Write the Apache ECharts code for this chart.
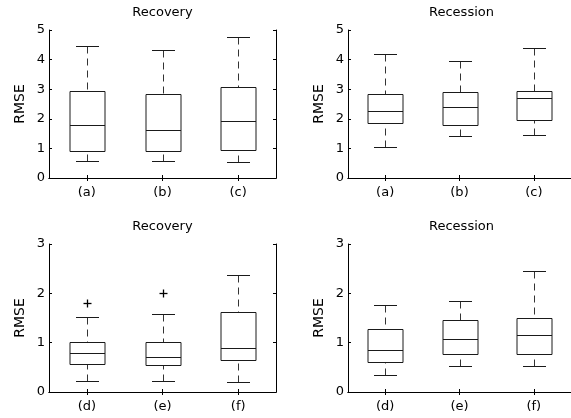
<!DOCTYPE html>
<html>
<head>
<meta charset="utf-8">
<script src="https://cdn.jsdelivr.net/npm/echarts@6/dist/echarts.min.js"></script>
<style>html,body{margin:0;padding:0;background:#fff}#c{width:571px;height:418px}</style>
</head>
<body>
<div id="c"></div>
<script>
// ---- data ----
const catsTop = ['(a)', '(b)', '(c)'];
const catsBottom = ['(d)', '(e)', '(f)'];
const titles = ['Recovery', 'Recession', 'Recovery', 'Recession'];
const yMaxTop = 5;
const yMaxBottom = 3;
// [lower whisker, Q1, median, Q3, upper whisker]
const recoveryTop = [
  [0.58, 0.92, 1.78, 2.94, 4.47],
  [0.58, 0.90, 1.63, 2.83, 4.31],
  [0.54, 0.94, 1.92, 3.08, 4.76]
];
const recessionTop = [
  [1.04, 1.87, 2.27, 2.84, 4.19],
  [1.42, 1.80, 2.40, 2.89, 3.96],
  [1.45, 1.97, 2.70, 2.94, 4.38]
];
const recoveryBottom = [
  [0.23, 0.56, 0.79, 1.02, 1.53],
  [0.22, 0.54, 0.71, 1.01, 1.59],
  [0.20, 0.64, 0.90, 1.62, 2.38]
];
const recessionBottom = [
  [0.34, 0.60, 0.86, 1.28, 1.76],
  [0.53, 0.78, 1.08, 1.46, 1.84],
  [0.52, 0.78, 1.15, 1.50, 2.45]
];
// outliers: [category index, value]
const recoveryBottomOutliers = [[0, 1.80], [1, 2.01]];

// ---- layout ----
const FONT = 'DejaVu Sans';
const grids = [
  {left: 49, top: 30, width: 227, height: 148},
  {left: 348, top: 30, width: 229, height: 148},
  {left: 49, top: 244, width: 227, height: 148},
  {left: 348, top: 244, width: 229, height: 148}
];
const panels = [
  {cats: catsTop, max: yMaxTop, box: recoveryTop, out: [], rightFrame: true},
  {cats: catsTop, max: yMaxTop, box: recessionTop, out: [], rightFrame: false},
  {cats: catsBottom, max: yMaxBottom, box: recoveryBottom, out: recoveryBottomOutliers, rightFrame: true},
  {cats: catsBottom, max: yMaxBottom, box: recessionBottom, out: [], rightFrame: false}
];

const px = v => Math.round(v) + 0.5;

function boxRender(params, api) {
  const c = api.value(0);
  const ys = [1, 2, 3, 4, 5].map(k => px(api.coord([c, api.value(k)])[1]));
  const cx = px(api.coord([c, 0])[0]);
  const band = 75.7;
  const bw = Math.round(band * 0.46), cw = Math.round(band * 0.30);
  const solid = {stroke: '#1a1a1a', lineWidth: 1, fill: null};
  const dash = {stroke: '#333', lineWidth: 1, lineDash: [7, 5], fill: null};
  return {
    type: 'group',
    children: [
      {type: 'line', shape: {x1: cx, y1: ys[4], x2: cx, y2: ys[3]}, style: dash},
      {type: 'line', shape: {x1: cx, y1: ys[0], x2: cx, y2: ys[1]}, style: dash},
      {type: 'line', shape: {x1: cx - cw / 2, y1: ys[4], x2: cx + cw / 2, y2: ys[4]}, style: solid},
      {type: 'line', shape: {x1: cx - cw / 2, y1: ys[0], x2: cx + cw / 2, y2: ys[0]}, style: solid},
      {type: 'rect', shape: {x: cx - bw / 2, y: ys[3], width: bw, height: ys[1] - ys[3]}, style: solid},
      {type: 'line', shape: {x1: cx - bw / 2, y1: ys[2], x2: cx + bw / 2, y2: ys[2]}, style: solid}
    ]
  };
}

function plusRender(params, api) {
  const p = api.coord([api.value(0), api.value(1)]);
  const x = px(p[0]), y = px(p[1]), h = 4;
  const st = {stroke: '#000', lineWidth: 1.3};
  return {
    type: 'group',
    children: [
      {type: 'line', shape: {x1: x - h, y1: y, x2: x + h, y2: y}, style: st},
      {type: 'line', shape: {x1: x, y1: y - h, x2: x, y2: y + h}, style: st}
    ]
  };
}

const option = {
  animation: false,
  backgroundColor: '#fff',
  textStyle: {fontFamily: FONT},
  title: [], grid: [], xAxis: [], yAxis: [], series: []
};

const axisLine = {show: true, lineStyle: {color: '#000', width: 1}};
panels.forEach((pn, i) => {
  const g = grids[i];
  option.grid.push(Object.assign({containLabel: false}, g));
  option.title.push({
    text: titles[i], left: g.left + 113.5, top: i < 2 ? 6 : 220, textAlign: 'center', padding: 0,
    textStyle: {fontFamily: FONT, fontSize: 13, fontWeight: 'normal', color: '#000'}
  });
  // bottom & top x axes
  option.xAxis.push({
    gridIndex: i, type: 'category', data: pn.cats, position: 'bottom', boundaryGap: true,
    axisLine: axisLine, axisTick: {show: true, inside: true, alignWithLabel: true, length: 3, lineStyle: {color: '#000'}},
    axisLabel: {fontFamily: FONT, fontSize: 13, color: '#000', margin: 8}, splitLine: {show: false}
  });
  option.xAxis.push({
    gridIndex: i, type: 'category', data: pn.cats, position: 'top', boundaryGap: true,
    axisLine: axisLine, axisTick: {show: true, inside: true, alignWithLabel: true, length: 3, lineStyle: {color: '#000'}},
    axisLabel: {show: false}, splitLine: {show: false}
  });
  // left & right y axes
  option.yAxis.push({
    gridIndex: i, type: 'value', min: 0, max: pn.max, interval: 1, position: 'left',
    name: 'RMSE', nameLocation: 'middle', nameGap: 22, nameRotate: 90,
    nameTextStyle: {fontFamily: FONT, fontSize: 14, color: '#000'},
    axisLine: axisLine, axisTick: {show: true, inside: true, length: 3, lineStyle: {color: '#000'}},
    axisLabel: {fontFamily: FONT, fontSize: 13, color: '#000', margin: 4}, splitLine: {show: false}
  });
  option.yAxis.push({
    gridIndex: i, type: 'value', min: 0, max: pn.max, interval: 1, position: 'right',
    show: pn.rightFrame,
    axisLine: {show: pn.rightFrame, lineStyle: {color: '#000', width: 1}},
    axisTick: {show: pn.rightFrame, inside: true, length: 3, lineStyle: {color: '#000'}},
    axisLabel: {show: false}, splitLine: {show: false}
  });
  option.series.push({
    type: 'custom', xAxisIndex: 2 * i, yAxisIndex: 2 * i,
    data: pn.box.map((b, k) => [k].concat(b)),
    encode: {x: 0, y: [1, 2, 3, 4, 5]},
    renderItem: boxRender, clip: false
  });
  if (pn.out.length) {
    option.series.push({
      type: 'custom', xAxisIndex: 2 * i, yAxisIndex: 2 * i,
      data: pn.out, encode: {x: 0, y: 1}, renderItem: plusRender
    });
  }
});

const chart = echarts.init(document.getElementById('c'), null, {renderer: 'canvas'});
chart.setOption(option);
</script>
</body>
</html>
